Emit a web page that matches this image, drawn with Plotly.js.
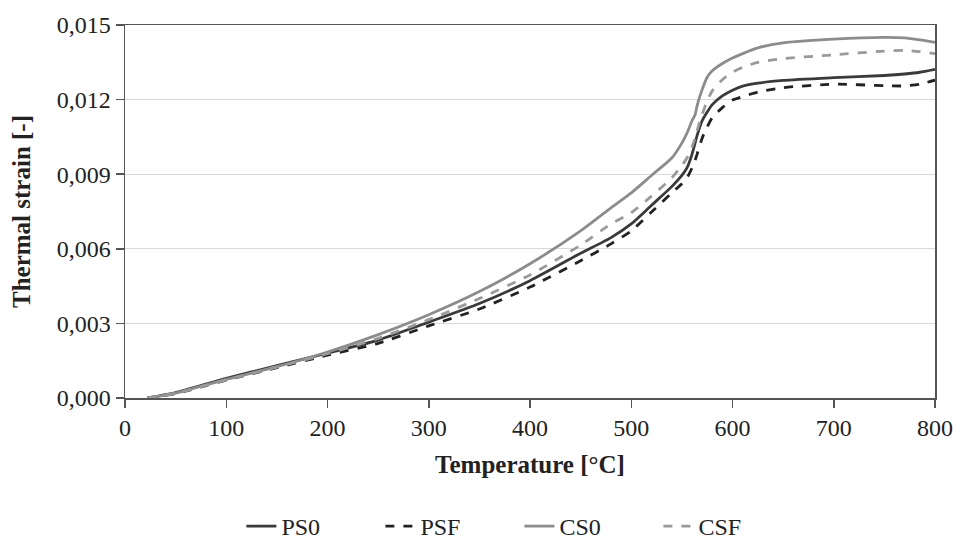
<!DOCTYPE html>
<html>
<head>
<meta charset="utf-8">
<script src="https://cdn.plot.ly/plotly-3.0.1.min.js"></script>
<style>html,body{margin:0;padding:0;background:#fff;}#chart{width:953px;height:540px;}</style>
</head>
<body>
<div id="chart"></div>
<script>
// Temperature grid [°C]
const temperature = [22, 50, 100, 150, 200, 250, 300, 350, 400, 450, 480, 500, 520, 540, 550, 555, 560, 563, 565, 570, 575, 580, 590, 600, 610, 625, 650, 700, 750, 770, 785, 800];

// Thermal strain [-]
const ps0 = [0, 0.00022, 0.00079, 0.00130, 0.00180, 0.00233, 0.00305, 0.00380, 0.00472, 0.00582, 0.00645, 0.00700, 0.00775, 0.00850, 0.00895, 0.00925, 0.00980, 0.01025, 0.01055, 0.01115, 0.01150, 0.01180, 0.01215, 0.01238, 0.01254, 0.01266, 0.01277, 0.01288, 0.01297, 0.01303, 0.01310, 0.01322];
const psf = [0, 0.00018, 0.00072, 0.00122, 0.00172, 0.00220, 0.00290, 0.00358, 0.00446, 0.00552, 0.00620, 0.00672, 0.00748, 0.00825, 0.00862, 0.00885, 0.00925, 0.00955, 0.00980, 0.01045, 0.01090, 0.01128, 0.01168, 0.01198, 0.01212, 0.01230, 0.01248, 0.01262, 0.01256, 0.01255, 0.01262, 0.01278];
const cs0 = [0, 0.00020, 0.00075, 0.00126, 0.00185, 0.00255, 0.00335, 0.00428, 0.00540, 0.00672, 0.00765, 0.00825, 0.00895, 0.00965, 0.01025, 0.01065, 0.01115, 0.01138, 0.01175, 0.01240, 0.01290, 0.01316, 0.01345, 0.01367, 0.01385, 0.01408, 0.01428, 0.01443, 0.01450, 0.01448, 0.01440, 0.01430];
const csf = [0, 0.00019, 0.00073, 0.00124, 0.00178, 0.00240, 0.00315, 0.00400, 0.00495, 0.00615, 0.00700, 0.00745, 0.00812, 0.00885, 0.00935, 0.00965, 0.01010, 0.01045, 0.01075, 0.01140, 0.01195, 0.01235, 0.01280, 0.01310, 0.01330, 0.01350, 0.01365, 0.01380, 0.01395, 0.01398, 0.01393, 0.01385];

const seriesNames = ['PS0', 'PSF', 'CS0', 'CSF'];
const seriesData = [ps0, psf, cs0, csf];
const seriesColors = ['#3a3a3a', '#222222', '#8c8c8c', '#9a9a9a'];
const seriesDash = ['solid', 'dash', 'solid', 'dash'];

const traces = seriesNames.map((n, i) => ({
  type: 'scatter', mode: 'lines', name: n,
  x: temperature, y: seriesData[i],
  line: {color: seriesColors[i], width: 2.8, dash: seriesDash[i], shape: 'spline', smoothing: 0.6}
}));

const fontFam = 'Liberation Serif, Times New Roman, serif';
const layout = {
  width: 953, height: 540,
  margin: {l: 125, r: 18, t: 25, b: 142},
  paper_bgcolor: '#fff', plot_bgcolor: '#fff',
  separators: ', ',
  font: {family: fontFam, size: 24, color: '#222'},
  showlegend: true,
  legend: {
    orientation: 'h', xref: 'container', yref: 'container',
    x: 0.545, xanchor: 'center', y: 0.025, yanchor: 'middle',
    font: {family: fontFam, size: 24, color: '#222'},
    entrywidth: 94, entrywidthmode: 'pixels', tracegroupgap: 0
  },
  xaxis: {
    range: [0, 800], dtick: 100, tick0: 0,
    showgrid: false, zeroline: false,
    showline: true, linecolor: '#555', linewidth: 1.5, mirror: true,
    ticks: 'outside', ticklen: 8, tickcolor: '#555', tickwidth: 1.5,
    tickfont: {family: fontFam, size: 24, color: '#222'},
    title: {text: '<b>Temperature [°C]</b>', font: {family: fontFam, size: 25, color: '#222'}, standoff: 15}
  },
  yaxis: {
    range: [0, 0.015], dtick: 0.003, tick0: 0, tickformat: '.3f',
    showgrid: true, gridcolor: '#d9d9d9', gridwidth: 1.2, zeroline: false,
    showline: true, linecolor: '#555', linewidth: 1.5, mirror: true,
    ticks: 'outside', ticklen: 8, tickcolor: '#555', tickwidth: 1.5,
    tickfont: {family: fontFam, size: 24, color: '#222'},
    title: {text: '<b>Thermal strain [-]</b>', font: {family: fontFam, size: 25, color: '#222'}, standoff: 19}
  }
};

Plotly.newPlot('chart', traces, layout, {staticPlot: true, displayModeBar: false});
</script>
</body>
</html>
